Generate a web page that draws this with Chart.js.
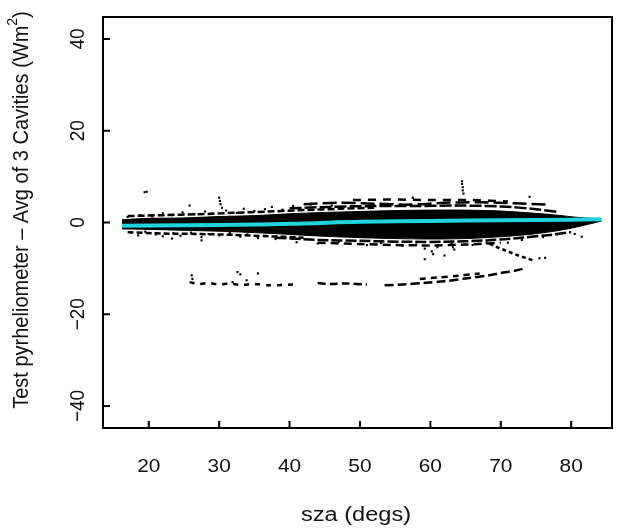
<!DOCTYPE html>
<html>
<head>
<meta charset="utf-8">
<script src="https://cdn.jsdelivr.net/npm/chart.js@4.4.1/dist/chart.umd.min.js"></script>
<style>
  html, body { margin: 0; padding: 0; background: #fff; }
  canvas { display: block; }
</style>
</head>
<body>
<canvas id="chart" width="618" height="529"></canvas>
<script>
// axis ticks
const xTicks = [20, 30, 40, 50, 60, 70, 80];
const yTicks = [-40, -20, 0, 20, 40];

// smooth fit (cyan)
const fitLine = [[16.2,-0.7],[25,-0.6],[35,-0.45],[42,-0.2],[50,0.15],[60,0.35],[70,0.5],[80,0.6],[84.3,0.7]];

// dense core of the cloud, upper / lower edges
const coreUpper = [[16.2,0.6],[20,0.9],[25,1.0],[30,1.3],[35,1.5],[40,1.9],[45,2.2],[50,2.4],[55,2.6],[60,2.7],[65,2.7],[70,2.5],[74,2.1],[78,1.6],[81,1.1],[84.3,0.8]];
const coreLower = [[16.2,-1.4],[20,-1.5],[25,-1.7],[30,-1.9],[35,-2.2],[40,-2.6],[45,-3.0],[50,-3.3],[55,-3.5],[60,-3.6],[65,-3.5],[70,-3.1],[74,-2.6],[78,-1.8],[81,-0.9],[84.3,0.3]];

// streaky rows above and below the core
const upperRow1 = [[17,1.4],[22,1.6],[27,1.8],[32,2.1],[37,2.4],[42,2.7],[47,3.0],[52,3.2]];
const upperRow2 = [[40,3.1],[46,3.4],[52,3.6],[58,3.6],[64,3.7],[70,3.5],[75,2.9],[78,2.3]];
const upperRow3 = [[42,4.0],[47,4.3],[52,4.1],[57,3.9],[62,4.3],[67,4.4],[72,4.2],[76.5,3.9]];
const upperRow4 = [[49,4.9],[54,5.0],[60,4.9],[66,4.9],[71,4.6]];
const lowerRow1 = [[17,-2.1],[22,-2.4],[27,-2.5],[32,-2.7],[37,-3.0],[42,-3.3]];
const lowerRow2 = [[38,-3.3],[44,-3.8],[50,-4.0],[56,-4.2],[62,-4.2],[68,-3.9],[73,-3.3],[77,-2.7],[80,-2.1]];
const lowerRow3 = [[44,-4.4],[50,-4.7],[55,-4.9],[60,-5.0],[65,-4.8],[70,-4.4]];

// lower tracks around -8 .. -13
const dropTrack = [[68.4,-4.6],[69.5,-5.4],[70.5,-6.0],[71.5,-6.6],[72.5,-7.2],[73.5,-7.7],[74.5,-8.2]];
const lowTrackA = [[25.8,-13.0],[27,-13.4],[28.5,-13.2],[30,-13.5],[31.5,-13.3],[33,-13.6],[35,-13.4],[37,-13.7],[39,-13.6],[40.5,-13.5]];
const lowTrackB = [[44,-13.2],[46,-13.4],[48,-13.3],[51,-13.5]];
const lowTrackC = [[53.5,-13.7],[56,-13.5],[59,-13.2],[62,-12.8],[65,-12.2],[68.4,-11.5],[70,-11.0],[72,-10.5],[73.4,-10.0]];
const lowTrackD = [[58.5,-12.3],[61,-12.0],[64,-11.6],[67,-11.1]];

// loose points
const speckles = [
  [17,1.2],[18.8,1.6],[20.5,1.3],[22,2.0],[23.3,1.6],[24.8,2.2],[26.5,1.8],[28,2.4],[29,1.9],[31,2.6],
  [32.5,2.1],[33.5,3.0],[35,2.5],[36.5,2.9],[37.5,3.4],[39,2.8],[40.5,3.6],[41.5,3.1],[43,3.9],[44.5,3.4],[46,3.7],
  [17.5,-2.2],[18.5,-2.8],[19.5,-2.0],[21,-2.6],[22,-3.0],[23.5,-2.3],[24.5,-2.9],[26,-2.2],[27.5,-3.2],[28.5,-2.5],
  [30,-2.8],[31.5,-2.3],[33,-3.1],[34,-2.6],[35.5,-3.4],[36.5,-2.9],[38,-3.6],[39,-3.1],[23.3,-3.5],[27.5,-3.9],
  [41,-4.3],[44,-4.6],[47,-4.2],[51,-4.9],[53,-4.5],[56,-5.1],[58,-4.8],[61,-5.0],[63,-4.7],[66,-4.9],[68,-4.5],
  [71,-4.4],[73,-3.8],[76,-3.2],[78,-2.6],[80.5,-2.5],[81.5,-3.1],
  [59.2,-5.7],[60.2,-6.3],[60.4,-6.9],[62,-7.2],[63.2,-5.4],[63.4,-5.9],[59.2,-8.0],[61,-5.4],[75.5,-7.8],[76.3,-7.7],
  [26.1,-11.5],[26.2,-12.3],[32.6,-10.8],[33.0,-11.3],[35.5,-11.1],[33.9,-12.6],[31.9,-13.0],
  [19.7,6.7],[19.4,6.6],[25.8,3.7],[30.0,5.4],[30.1,4.7],[30.2,4.0],[30.4,3.2],
  [64.5,9.0],[64.5,8.4],[64.6,7.7],[64.6,7.0],[64.7,6.3],[57.5,5.4],[74.1,5.6]
];

const black = '#000';
function streak(data, dash) {
  return { type: 'line', data: data, borderColor: black, borderWidth: 2.5, borderDash: dash || [],
           pointRadius: 0, tension: 0.3, fill: false, order: 2 };
}

// frame, inward ticks and R style labels
const rFrame = {
  id: 'rFrame',
  afterDraw(chart) {
    const ctx = chart.ctx, a = chart.chartArea;
    const xs = chart.scales.x, ys = chart.scales.y;
    ctx.save();
    ctx.strokeStyle = black;
    ctx.lineWidth = 2;
    ctx.strokeRect(a.left, a.top, a.right - a.left, a.bottom - a.top);
    ctx.beginPath();
    xTicks.forEach(v => { const px = xs.getPixelForValue(v); ctx.moveTo(px, a.bottom); ctx.lineTo(px, a.bottom - 7); });
    yTicks.forEach(v => { const py = ys.getPixelForValue(v); ctx.moveTo(a.left, py); ctx.lineTo(a.left + 7, py); });
    ctx.stroke();

    ctx.fillStyle = '#111';
    ctx.textAlign = 'center';
    ctx.textBaseline = 'middle';
    ctx.font = '19px "Liberation Sans", Arial, sans-serif';
    xTicks.forEach(v => {
      ctx.save();
      ctx.translate(xs.getPixelForValue(v), 467);
      ctx.scale(1.1, 1);
      ctx.fillText(String(v), 0, 0);
      ctx.restore();
    });
    yTicks.forEach(v => {
      ctx.save();
      ctx.translate(78, ys.getPixelForValue(v));
      ctx.rotate(-Math.PI / 2);
      ctx.scale(1, 1.1);
      ctx.fillText(String(v).replace('-', '\u2212'), 0, 0);
      ctx.restore();
    });

    // x title
    ctx.save();
    ctx.font = '20px "Liberation Sans", Arial, sans-serif';
    ctx.translate(356, 515);
    ctx.scale(1.18, 1);
    ctx.fillText('sza (degs)', 0, 0);
    ctx.restore();

    // y title with superscript
    ctx.save();
    const main = 'Test pyrheliometer \u2013 Avg of 3 Cavities (Wm';
    const big = '20px "Liberation Sans", Arial, sans-serif';
    const small = '14px "Liberation Sans", Arial, sans-serif';
    ctx.font = big;
    const w1 = ctx.measureText(main).width;
    const w3 = ctx.measureText(')').width;
    ctx.font = small;
    const w2 = ctx.measureText('2').width;
    const total = w1 + w2 + w3;
    ctx.translate(22, 210);
    ctx.rotate(-Math.PI / 2);
    ctx.scale(1, 1.1);
    ctx.textAlign = 'left';
    let x0 = -total / 2;
    ctx.font = big;
    ctx.fillText(main, x0, 0);
    ctx.font = small;
    ctx.fillText('2', x0 + w1, -8);
    ctx.font = big;
    ctx.fillText(')', x0 + w1 + w2, 0);
    ctx.restore();
    ctx.restore();
  }
};

new Chart(document.getElementById('chart'), {
  type: 'scatter',
  data: {
    datasets: [
      { type: 'line', label: 'fit', data: fitLine, borderColor: '#22d3dc', borderWidth: 4, pointRadius: 0, tension: 0.4, fill: false, order: 0 },
      { type: 'line', label: 'coreUpper', data: coreUpper, borderColor: black, borderWidth: 1, pointRadius: 0, tension: 0.3, fill: false, order: 3 },
      { type: 'line', label: 'coreLower', data: coreLower, borderColor: black, backgroundColor: black, borderWidth: 1, pointRadius: 0, tension: 0.3, fill: '-1', order: 3 },
      streak(upperRow1, [7, 3]),
      streak(upperRow2, [12, 3]),
      streak(upperRow3, [14, 5]),
      streak(upperRow4, [8, 7]),
      streak(lowerRow1, [6, 3]),
      streak(lowerRow2, [11, 3]),
      streak(lowerRow3, [8, 5]),
      streak(dropTrack, [4, 3]),
      streak(lowTrackA, [5, 6]),
      streak(lowTrackB, [8, 4]),
      streak(lowTrackC, [9, 4]),
      streak(lowTrackD, [6, 5]),
      { label: 'points', data: speckles, backgroundColor: black, borderColor: black, pointStyle: 'rect', pointRadius: 1.5, borderWidth: 0, order: 1 }
    ]
  },
  options: {
    responsive: false,
    animation: false,
    devicePixelRatio: 1,
    layout: { padding: { left: 0, top: 17, right: 6, bottom: 0 } },
    plugins: { legend: { display: false }, tooltip: { enabled: false } },
    scales: {
      x: {
        type: 'linear', min: 13.5, max: 85.8,
        grid: { display: false }, border: { display: false },
        ticks: { display: false },
        afterFit: s => { s.height = 101; }
      },
      y: {
        type: 'linear', min: -44.8, max: 44.8,
        grid: { display: false }, border: { display: false },
        ticks: { display: false },
        afterFit: s => { s.width = 103; }
      }
    }
  },
  plugins: [rFrame]
});
</script>
</body>
</html>
